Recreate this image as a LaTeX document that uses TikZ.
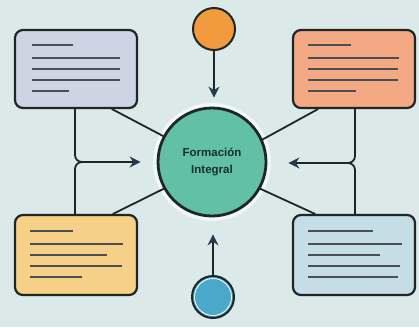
\documentclass[tikz,border=0pt]{standalone}
\usepackage{fontspec}
\setmainfont{Liberation Sans}
\usetikzlibrary{arrows.meta}
\definecolor{bg}{HTML}{DCE9E9}
\definecolor{ink}{HTML}{1F2626}
\definecolor{navy}{HTML}{243A4E}
\definecolor{tealc}{HTML}{62C0A6}
\definecolor{dkgreen}{HTML}{15302A}
\definecolor{boxtl}{HTML}{CDD4E4}
\definecolor{boxtr}{HTML}{F2A984}
\definecolor{boxbl}{HTML}{F6D086}
\definecolor{boxbr}{HTML}{C5DDE4}
\definecolor{orangec}{HTML}{F19A3E}
\definecolor{bluec}{HTML}{4AA8C9}
\definecolor{lineg}{HTML}{4A4F55}
\begin{document}
\begin{tikzpicture}[x=1pt,y=-1pt,
  box/.style={draw=ink, line width=2.2pt, rounded corners=8pt, minimum width=122pt, minimum height=78pt, inner sep=0pt},
  conn/.style={draw=ink, line width=1.8pt, line cap=round},
  arr/.style={conn, -{Stealth[length=11pt,width=11pt,color=navy]}},
  txtline/.style={draw=lineg, line width=1.9pt},
  dot/.style={circle, draw=ink, line width=2pt, minimum size=42pt, inner sep=0pt}
]
\fill[bg] (0,0) rectangle (419,327);
\useasboundingbox (0,0) rectangle (419,327);

% central circle with halo
\fill[white!60!bg] (212,162) circle (59);
\node[circle, draw=ink, line width=2.8pt, fill=tealc, minimum size=108pt, inner sep=0pt,
      align=center, text=dkgreen, font=\bfseries\fontsize{11.5}{17}\selectfont] (c) at (212,162) {Formación\\Integral};

% boxes
\node[box, fill=boxtl] (tl) at (76,69) {};
\node[box, fill=boxtr] (tr) at (354,69) {};
\node[box, fill=boxbl, minimum height=80pt] (bl) at (76,255) {};
\node[box, fill=boxbr, minimum height=80pt] (br) at (354,255) {};

% text lines
\draw[txtline] (32,45) -- (73,45);
\draw[txtline] (32,58) -- (120,58);
\draw[txtline] (32,69) -- (120,69);
\draw[txtline] (32,80) -- (120,80);
\draw[txtline] (32,91) -- (69,91);

\draw[txtline] (308,45) -- (351,45);
\draw[txtline] (308,58) -- (399,58);
\draw[txtline] (308,69) -- (398,69);
\draw[txtline] (308,80) -- (398,80);
\draw[txtline] (308,91) -- (356,91);

\draw[txtline] (30,231) -- (73,231);
\draw[txtline] (30,244) -- (123,244);
\draw[txtline] (30,255) -- (107,255);
\draw[txtline] (30,266) -- (122,266);
\draw[txtline] (30,277) -- (82,277);

\draw[txtline] (308,231) -- (373,231);
\draw[txtline] (308,244) -- (402,244);
\draw[txtline] (308,255) -- (380,255);
\draw[txtline] (308,266) -- (400,266);
\draw[txtline] (308,277) -- (398,277);

% small circles
\node[dot, fill=orangec] (o) at (214,29) {};
\node[dot, fill=bluec] (b) at (213,297) {};
\draw[white, line width=0.8pt] (b) circle (18.5);

% vertical arrows
\draw[arr, shorten >=9pt] (o.south) -- (o.south |- c.north);
\draw[arr, shorten >=17pt] (b.north) -- (b.north |- c.south);

% left connectors
\coordinate (jl) at (75,162);
\coordinate (jl2) at (85,162);
\draw[conn, rounded corners=7pt] (tl.south -| jl) |- (jl2);
\draw[conn, rounded corners=7pt] (bl.north -| jl) |- (jl2);
\draw[arr, shorten >=16pt] (jl2) -- (jl -| c.west);
\draw[conn] (tl.south -| 112,0) -- (c.152);
\draw[conn] (bl.north -| 113,0) -- (c.209);

% right connectors
\coordinate (jr) at (355,163);
\coordinate (jr2) at (345,163);
\draw[conn, rounded corners=7pt] (tr.south -| jr) |- (jr2);
\draw[conn, rounded corners=7pt] (br.north -| jr) |- (jr2);
\draw[arr, shorten >=21pt] (jr2) -- (jr -| c.east);
\draw[conn] (tr.south -| 318,0) -- (c.24);
\draw[conn] (br.north -| 315,0) -- (c.-29);
\end{tikzpicture}
\end{document}
